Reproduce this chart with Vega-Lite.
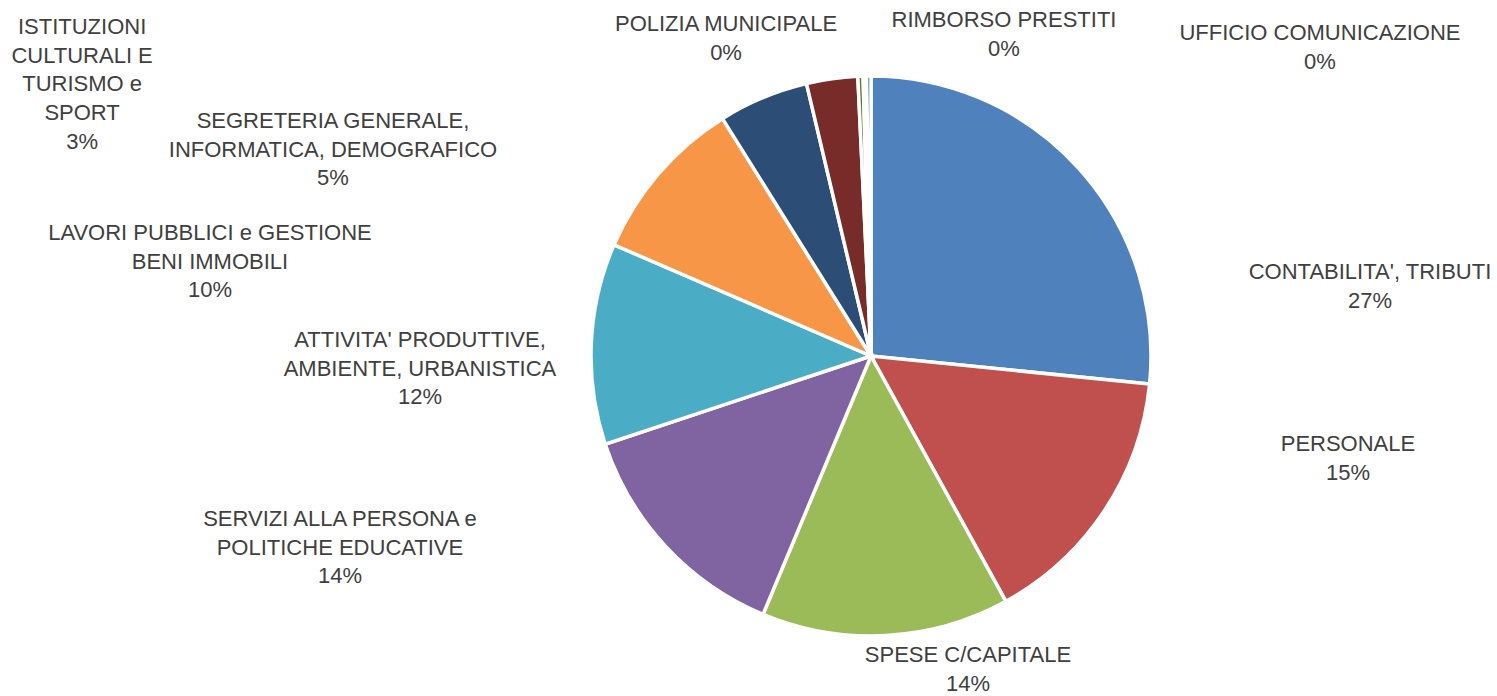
{
  "$schema": "https://vega.github.io/schema/vega-lite/v6.json",
  "width": 1252,
  "height": 680,
  "autosize": {"type": "none"},
  "padding": {"left": 245, "top": 16, "right": 0, "bottom": 0},
  "background": "white",
  "view": {"stroke": null},
  "config": {
    "text": {"font": "Liberation Sans", "fontSize": 22, "lineHeight": 28.7, "fill": "#404040", "align": "center", "baseline": "middle"}
  },
  "data": {
    "values": [
      {"idx": 1, "name": "CONTABILITA', TRIBUTI", "value": 26.6, "label": ["CONTABILITA', TRIBUTI", "27%"]},
      {"idx": 2, "name": "PERSONALE", "value": 15.4, "label": ["PERSONALE", "15%"]},
      {"idx": 3, "name": "SPESE C/CAPITALE", "value": 14.3, "label": ["SPESE C/CAPITALE", "14%"]},
      {"idx": 4, "name": "SERVIZI ALLA PERSONA e POLITICHE EDUCATIVE", "value": 13.6, "label": ["SERVIZI ALLA PERSONA e", "POLITICHE EDUCATIVE", "14%"]},
      {"idx": 5, "name": "ATTIVITA' PRODUTTIVE, AMBIENTE, URBANISTICA", "value": 11.6, "label": ["ATTIVITA' PRODUTTIVE,", "AMBIENTE, URBANISTICA", "12%"]},
      {"idx": 6, "name": "LAVORI PUBBLICI e GESTIONE BENI IMMOBILI", "value": 9.6, "label": ["LAVORI PUBBLICI e GESTIONE", "BENI IMMOBILI", "10%"]},
      {"idx": 7, "name": "SEGRETERIA GENERALE, INFORMATICA, DEMOGRAFICO", "value": 5.2, "label": ["SEGRETERIA GENERALE,", "INFORMATICA, DEMOGRAFICO", "5%"]},
      {"idx": 8, "name": "ISTITUZIONI CULTURALI E TURISMO e SPORT", "value": 2.95, "label": ["ISTITUZIONI", "CULTURALI E", "TURISMO e", "SPORT", "3%"]},
      {"idx": 9, "name": "POLIZIA MUNICIPALE", "value": 0.3, "label": ["POLIZIA MUNICIPALE", "0%"]},
      {"idx": 10, "name": "RIMBORSO PRESTITI", "value": 0.2, "label": ["RIMBORSO PRESTITI", "0%"]},
      {"idx": 11, "name": "UFFICIO COMUNICAZIONE", "value": 0.25, "label": ["UFFICIO COMUNICAZIONE", "0%"]}
    ]
  },
  "encoding": {
    "theta": {"field": "value", "type": "quantitative", "stack": true},
    "order": {"field": "idx", "type": "quantitative"}
  },
  "layer": [
    {
      "mark": {"type": "arc", "outerRadius": 280, "stroke": "white", "strokeWidth": 3.5},
      "encoding": {
        "color": {
          "field": "name",
          "type": "nominal",
          "legend": null,
          "scale": {
            "domain": ["CONTABILITA', TRIBUTI", "PERSONALE", "SPESE C/CAPITALE", "SERVIZI ALLA PERSONA e POLITICHE EDUCATIVE", "ATTIVITA' PRODUTTIVE, AMBIENTE, URBANISTICA", "LAVORI PUBBLICI e GESTIONE BENI IMMOBILI", "SEGRETERIA GENERALE, INFORMATICA, DEMOGRAFICO", "ISTITUZIONI CULTURALI E TURISMO e SPORT", "POLIZIA MUNICIPALE", "RIMBORSO PRESTITI", "UFFICIO COMUNICAZIONE"],
            "range": ["#4F81BD", "#C0504D", "#9BBB59", "#8064A2", "#4BACC6", "#F79646", "#2C4D75", "#772C2A", "#5F7530", "#4D3B62", "#276A7C"]
          }
        }
      }
    },
    {"mark": {"type": "text", "radius": 506.0, "thetaOffset": 0.5684}, "encoding": {"text": {"condition": {"test": "datum.idx === 1", "field": "label", "type": "nominal"}, "value": ""}}},
    {"mark": {"type": "text", "radius": 485.0, "thetaOffset": -0.4019}, "encoding": {"text": {"condition": {"test": "datum.idx === 2", "field": "label", "type": "nominal"}, "value": ""}}},
    {"mark": {"type": "text", "radius": 314.3, "thetaOffset": -0.2602}, "encoding": {"text": {"condition": {"test": "datum.idx === 3", "field": "label", "type": "nominal"}, "value": ""}}},
    {"mark": {"type": "text", "radius": 555.5, "thetaOffset": 0.4499}, "encoding": {"text": {"condition": {"test": "datum.idx === 4", "field": "label", "type": "nominal"}, "value": ""}}},
    {"mark": {"type": "text", "radius": 451.3, "thetaOffset": -0.0086}, "encoding": {"text": {"condition": {"test": "datum.idx === 5", "field": "label", "type": "nominal"}, "value": ""}}},
    {"mark": {"type": "text", "radius": 672.4, "thetaOffset": -0.5260}, "encoding": {"text": {"condition": {"test": "datum.idx === 6", "field": "label", "type": "nominal"}, "value": ""}}},
    {"mark": {"type": "text", "radius": 587.1, "thetaOffset": -0.7632}, "encoding": {"text": {"condition": {"test": "datum.idx === 7", "field": "label", "type": "nominal"}, "value": ""}}},
    {"mark": {"type": "text", "radius": 854.8, "thetaOffset": -1.0358}, "encoding": {"text": {"condition": {"test": "datum.idx === 8", "field": "label", "type": "nominal"}, "value": ""}}},
    {"mark": {"type": "text", "radius": 362.3, "thetaOffset": -0.3740}, "encoding": {"text": {"condition": {"test": "datum.idx === 9", "field": "label", "type": "nominal"}, "value": ""}}},
    {"mark": {"type": "text", "radius": 361.4, "thetaOffset": 0.3988}, "encoding": {"text": {"condition": {"test": "datum.idx === 10", "field": "label", "type": "nominal"}, "value": ""}}},
    {"mark": {"type": "text", "radius": 553.1, "thetaOffset": 0.9550}, "encoding": {"text": {"condition": {"test": "datum.idx === 11", "field": "label", "type": "nominal"}, "value": ""}}}
  ]
}
